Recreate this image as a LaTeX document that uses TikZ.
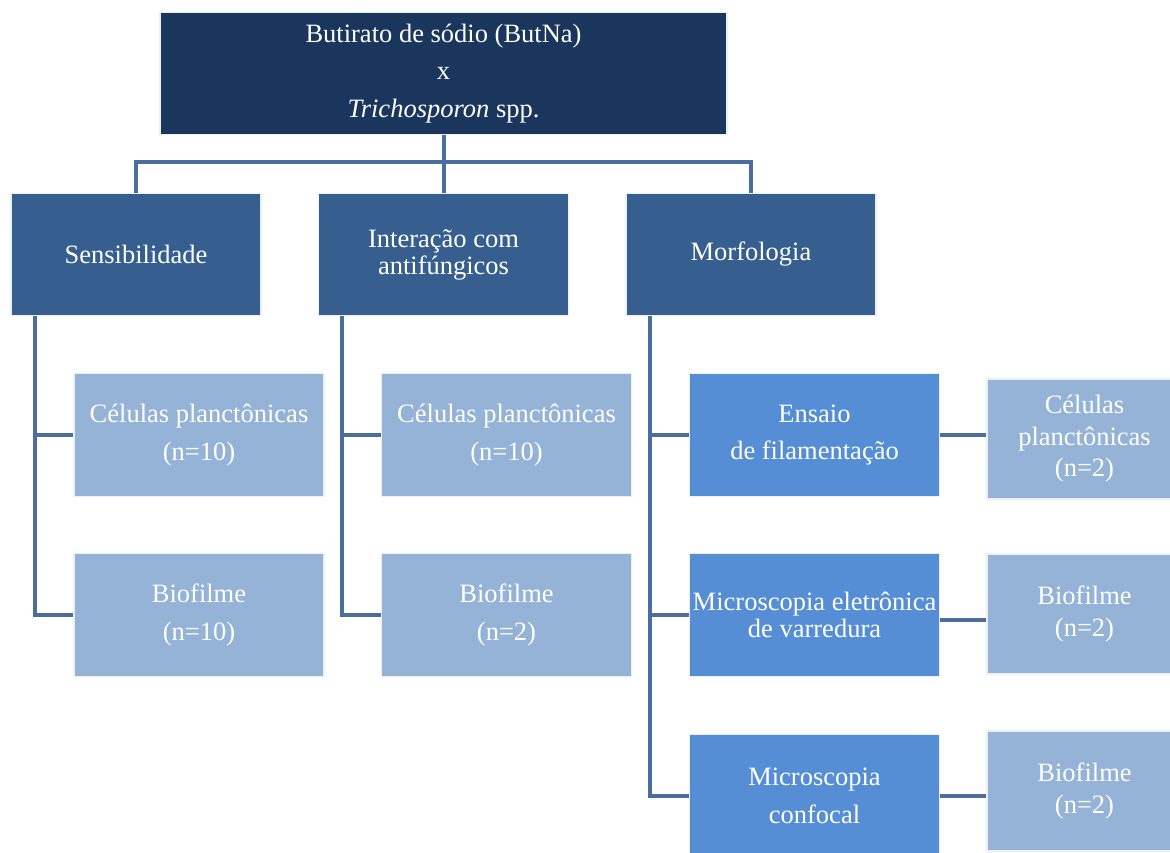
\documentclass[tikz,border=0pt]{standalone}
\usepackage{fontspec}
\setmainfont{Liberation Serif}
\usetikzlibrary{positioning}
\definecolor{navy}{HTML}{1B365D}
\definecolor{steel}{HTML}{365F8F}
\definecolor{pale}{HTML}{95B3D7}
\definecolor{bright}{HTML}{558ED5}
\definecolor{wire}{HTML}{4A6EA0}
\tikzset{
  box/.style={draw=white!80!pale,line width=.5pt,text=white,align=center,minimum width=100pt,minimum height=49pt,inner xsep=0pt,inner ysep=2pt,font=\fontsize{10.6}{15}\selectfont},
  tight/.style={font=\fontsize{10.6}{10.8}\selectfont},
  snug/.style={font=\fontsize{10.6}{12.6}\selectfont},
  side/.style={box,fill=pale,minimum width=78pt,minimum height=48pt},
  link/.style={draw=wire,line width=1.6pt}
}

\begin{document}
\begin{tikzpicture}[x=0.4pt,y=-0.4pt]
  \useasboundingbox (0,0) rectangle (1170,852);

  % topo
  \node[box,fill=navy,minimum width=226.8pt] (top) at (443.5,73.5)
    {Butirato de sódio (ButNa)\\x\\\textit{Trichosporon} spp.};

  % eixos
  \node[box,fill=steel] (sens) at (136,254.5) {Sensibilidade};
  \node[box,fill=steel,tight] (inter) at (443.5,254.5) {Interação com\\antifúngicos};
  \node[box,fill=steel] (morf) at (751,254.5) {Morfologia};

  \node[box,fill=pale] (sensC) at (199,435) {Células planctônicas\\(n=10)};
  \node[box,fill=pale] (sensB) at (199,615) {Biofilme\\(n=10)};
  \node[box,fill=pale] (interC) at (506.5,435) {Células planctônicas\\(n=10)};
  \node[box,fill=pale] (interB) at (506.5,615) {Biofilme\\(n=2)};

  \node[box,fill=bright] (fil) at (814.5,435) {Ensaio\\de filamentação};
  \node[box,fill=bright,tight] (mev) at (814.5,615) {Microscopia eletrônica\\de varredura};
  \node[box,fill=bright] (conf) at (814.5,796) {Microscopia\\confocal};

  \node[side,snug] (filC) at (1084.5,439) {Células\\planctônicas\\(n=2)};
  \node[side,snug] (mevB) at (1084.5,614) {Biofilme\\(n=2)};
  \node[side,snug] (confB) at (1084.5,791) {Biofilme\\(n=2)};

  % ligações
  \coordinate (bar) at (0,162);
  \coordinate (lspine) at (35,0);
  \coordinate (mspine) at (342,0);
  \coordinate (rspine) at (650,0);

  \draw[link] (top.south) -- (top.south |- bar);
  \draw[link] (sens.north) -- (sens.north |- bar) -| (morf.north);
  \draw[link] (inter.north) -- (inter.north |- bar);

  \draw[link] (sens.south -| lspine) |- (sensB.west);
  \draw[link] (lspine |- sensC.west) -- (sensC.west);
  \draw[link] (inter.south -| mspine) |- (interB.west);
  \draw[link] (mspine |- interC.west) -- (interC.west);
  \draw[link] (morf.south -| rspine) |- (conf.west);
  \draw[link] (rspine |- fil.west) -- (fil.west);
  \draw[link] (rspine |- mev.west) -- (mev.west);

  \draw[link] (fil.east) -- (fil.east -| filC.west);
  \draw[link] ([yshift=-2pt]mev.east) -- ([yshift=-2pt]mev.east -| mevB.west);
  \draw[link] (conf.east) -- (conf.east -| confB.west);
\end{tikzpicture}
\end{document}
